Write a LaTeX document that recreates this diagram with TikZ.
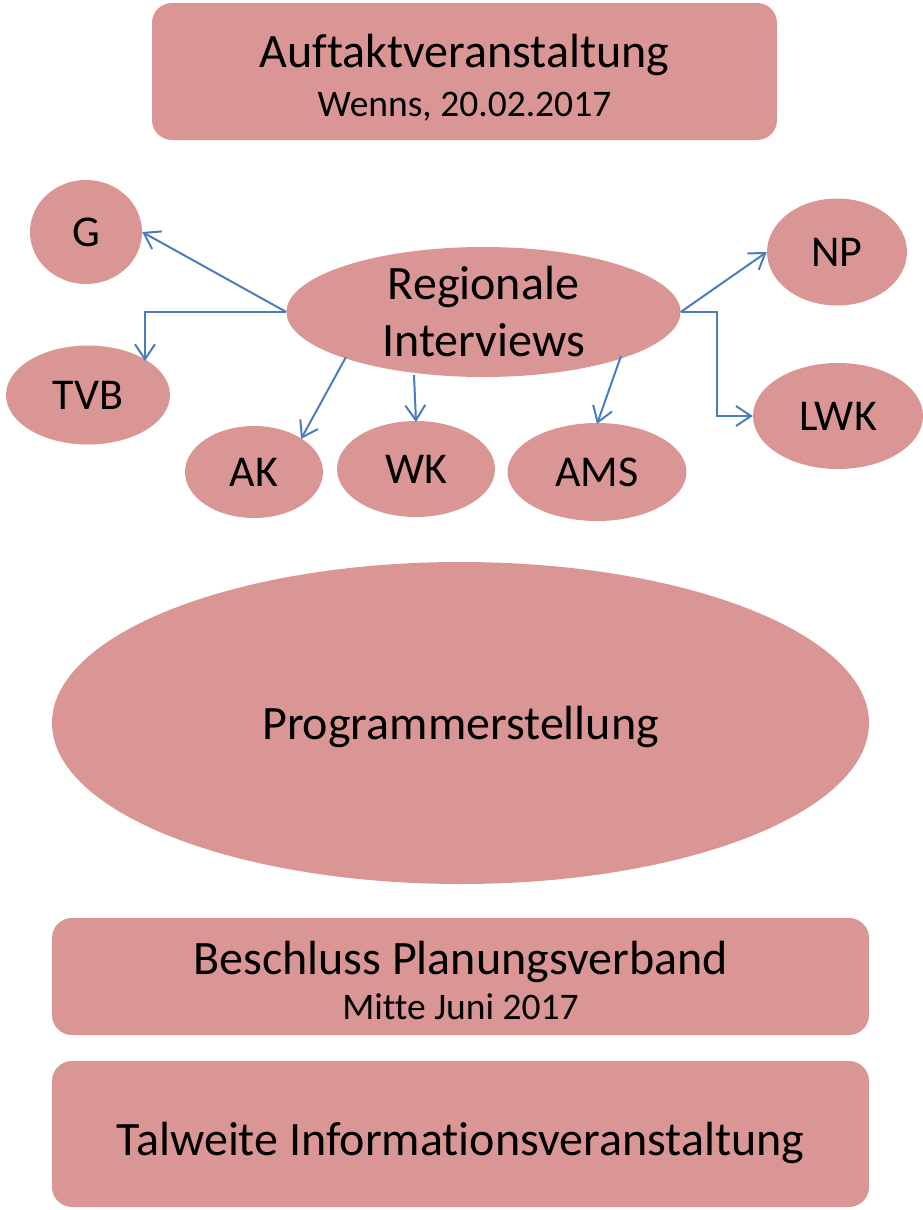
\documentclass[tikz,border=0pt]{standalone}
\usepackage{fontspec}
\setmainfont{Carlito}[Ligatures={NoCommon}]
\usetikzlibrary{shapes.geometric,arrows.meta}
\definecolor{boxfill}{HTML}{D99694}
\definecolor{arrowblue}{HTML}{4A7EBB}
\tikzset{
  rbox/.style={draw=none, fill=boxfill, rounded corners=20pt, inner sep=0pt, align=center, text depth=0pt},
  ell/.style={ellipse, draw=none, fill=boxfill, inner sep=0pt, align=center},
  bigtxt/.style={font=\fontsize{48}{57}\selectfont},
  smalltxt/.style={font=\fontsize{44}{52}\selectfont},
  conn/.style={draw=arrowblue, line width=2pt, -{Straight Barb[length=15pt,width=20pt,line width=2pt]}},
}
\newcommand{\subtxt}[1]{{\fontsize{37.5}{40}\selectfont #1}}
\newcommand{\lift}[1]{\rule{0pt}{#1}}
\begin{document}
\begin{tikzpicture}[x=1pt,y=-1pt]
\path[use as bounding box] (0,0) rectangle (923,1210);
% top box
\node[rbox, bigtxt, minimum width=625pt, minimum height=137pt] (auf) at (464.5,71.5)
  {\lift{40pt}Auftaktveranstaltung\\[-8pt]\subtxt{Wenns, 20.02.2017}};
% ellipses
\node[ell, bigtxt, minimum width=394pt, minimum height=130pt] (ri) at (483.5,312) {Regionale\\Interviews};
\node[ell, smalltxt, minimum width=112pt, minimum height=104pt] (g) at (86,232) {G};
\node[ell, smalltxt, minimum width=164pt, minimum height=99pt] (tvb) at (88,395) {TVB};
\node[ell, smalltxt, minimum width=138pt, minimum height=92pt] (ak) at (254,472) {AK};
\node[ell, smalltxt, minimum width=158pt, minimum height=96pt] (wk) at (416,469) {WK};
\node[ell, smalltxt, minimum width=179pt, minimum height=98pt] (ams) at (597,472) {AMS};
\node[ell, smalltxt, minimum width=140pt, minimum height=107pt] (np) at (837,252) {NP};
\node[ell, smalltxt, minimum width=170pt, minimum height=106pt] (lwk) at (838,416) {LWK};
\node[ell, bigtxt, text depth=0pt, minimum width=817pt, minimum height=322pt] (prog) at (460.5,723) {Programmerstellung};
% bottom boxes
\node[rbox, bigtxt, minimum width=817pt, minimum height=117pt] (bes) at (460.5,976.5)
  {\lift{40pt}Beschluss Planungsverband\\[-12pt]\subtxt{Mitte Juni 2017}};
\node[rbox, bigtxt, minimum width=817pt, minimum height=146pt] (tal) at (460.5,1134)
  {\lift{42pt}Talweite Informationsveranstaltung};
% connector end points
\coordinate (tvbtop) at (145,361);
\coordinate (akstart) at (346,357);
\coordinate (akend) at (301,439);
\coordinate (wkstart) at (414,375);
\coordinate (wkend) at (416,422);
\coordinate (amsstart) at (621,356);
\coordinate (amsend) at (597,424);
\coordinate (lk) at (717,312);
% connectors
\draw[conn] (ri.west) -- (g.east);
\draw[conn] (ri.west) -| (tvbtop);
\draw[conn] (akstart) -- (akend);
\draw[conn] (wkstart) -- (wkend);
\draw[conn] (amsstart) -- (amsend);
\draw[conn] (ri.east) -- (np.west);
\draw[conn] (ri.east) -- (lk) |- (lwk.west);
\end{tikzpicture}
\end{document}
